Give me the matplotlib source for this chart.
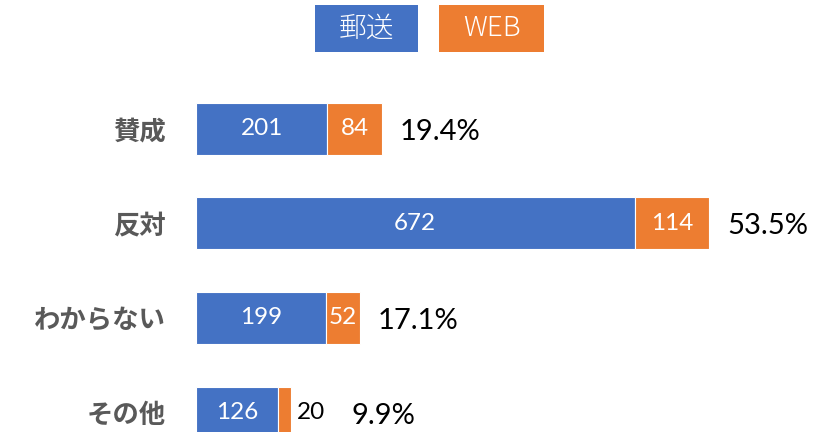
import matplotlib
matplotlib.use("Agg")
import matplotlib.pyplot as plt
from matplotlib.patches import Rectangle
from matplotlib.transforms import offset_copy

categories = ["賛成", "反対", "わからない", "その他"]
mail = [201, 672, 199, 126]
web = [84, 114, 52, 20]
pct_labels = ["19.4%", "53.5%", "17.1%", "9.9%"]
series_names = ["郵送", "WEB"]

BLUE = "#4472C4"
ORANGE = "#ED7D31"
GREY = "#595959"
NUM_FONT = ["Lato", "Noto Sans CJK JP", "DejaVu Sans"]
CJK_FONT = ["Noto Sans CJK JP", "DejaVu Sans"]

W, H = 830, 432
fig = plt.figure(figsize=(W / 100, H / 100), dpi=100)

# axes placement in pixels
x0, x1 = 196, 709
ytop, ybot = 81.5, 459.8
ax = fig.add_axes([x0 / W, 1 - ybot / H, (x1 - x0) / W, (ybot - ytop) / H])
total_max = max(m + w for m, w in zip(mail, web))
ax.set_xlim(0, total_max)
ax.set_ylim(len(categories) - 0.5, -0.5)

ypos = list(range(len(categories)))
h = 0.55
ax.barh(ypos, mail, height=h, color=BLUE, edgecolor="white", linewidth=0.8)
ax.barh(ypos, web, left=mail, height=h, color=ORANGE, edgecolor="white", linewidth=0.8)

ax.set_yticks(ypos)
ax.set_yticklabels(categories, fontsize=19, fontweight="bold", color=GREY, family=CJK_FONT)
ax.tick_params(axis="y", length=0, pad=22)
ax.set_xticks([])
for s in ax.spines.values():
    s.set_visible(False)

for i, (m, w, p) in enumerate(zip(mail, web, pct_labels)):
    ax.text(m / 2, i, str(m), ha="center", va="center", color="white",
            fontsize=17.5, family=NUM_FONT, clip_on=False)
    seg_px = w * (x1 - x0) / total_max
    if seg_px > 25:
        ax.text(m + w / 2, i, str(w), ha="center", va="center", color="white",
                fontsize=17.5, family=NUM_FONT, clip_on=False)
        tr = offset_copy(ax.transData, fig=fig, x=18, y=-3, units="dots")
        ax.text(m + w, i, p, ha="left", va="center", color="black",
                fontsize=21, family=NUM_FONT, transform=tr, clip_on=False)
    else:
        tr = offset_copy(ax.transData, fig=fig, x=6, y=0, units="dots")
        ax.text(m + w, i, str(w), ha="left", va="center", color="black",
                fontsize=17.5, family=NUM_FONT, transform=tr, clip_on=False)
        tr2 = offset_copy(ax.transData, fig=fig, x=60, y=-3, units="dots")
        ax.text(m + w, i, p, ha="left", va="center", color="black",
                fontsize=21, family=NUM_FONT, transform=tr2, clip_on=False)

# legend boxes
boxes = [(315, 418, BLUE), (439, 544, ORANGE)]
for (bx0, bx1, col), name in zip(boxes, series_names):
    fig.patches.append(Rectangle((bx0 / W, 1 - 52 / H), (bx1 - bx0) / W, 47 / H,
                                 transform=fig.transFigure, facecolor=col,
                                 edgecolor="none"))
    fig.text((bx0 + bx1) / 2 / W, 1 - 28.5 / H, name, ha="center", va="center",
             color="white", fontsize=20, family=CJK_FONT, fontweight="light")

fig.savefig("out.png", dpi=100)
